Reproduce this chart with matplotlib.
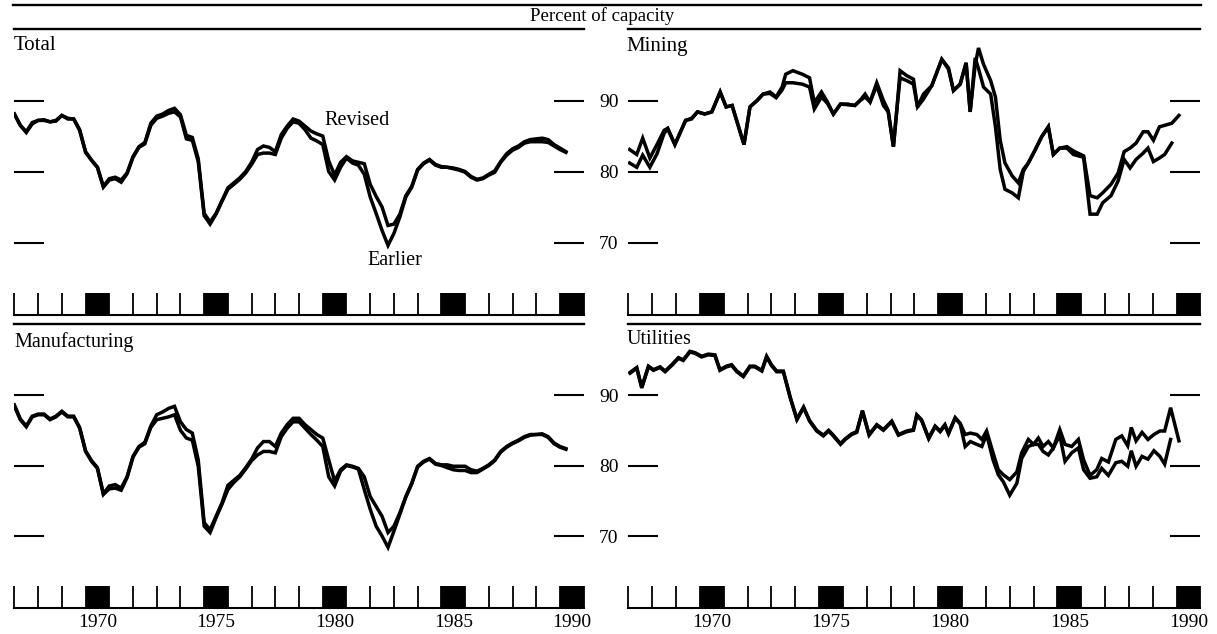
import matplotlib
matplotlib.use("Agg")
import matplotlib.pyplot as plt
from matplotlib.lines import Line2D
import numpy as np

plt.rcParams['font.family'] = ['Liberation Serif', 'DejaVu Serif']

# ---------------- data ----------------
quarters = np.arange(1967.0, 1990.26, 0.25)   # 1967Q1 .. 1990Q2

total_rev = [88.1, 86.5, 85.6, 86.9, 87.2, 87.3, 87.0, 87.2, 87.9, 87.5, 87.4, 85.9,
             82.8, 81.6, 80.6, 77.9, 79.0, 79.2, 78.8, 79.8, 82.1, 83.5, 84.1, 86.8,
             87.8, 88.1, 88.6, 88.9, 88.0, 85.1, 84.8, 81.8, 74.1, 72.9, 74.1, 75.9,
             77.7, 78.4, 79.1, 80.0, 81.3, 83.1, 83.6, 83.4, 82.8, 85.2, 86.4, 87.4,
             87.1, 86.4, 85.7, 85.3, 85.0, 81.5, 79.5, 81.3, 82.1, 81.5, 81.3, 81.1,
             78.2, 76.5, 75.0, 72.4, 72.6, 74.0, 76.6, 77.9, 80.3, 81.2, 81.7, 81.0,
             80.7, 80.6, 80.5, 80.3, 80.0, 79.3, 78.9, 79.1, 79.6, 80.1, 81.4, 82.5,
             83.2, 83.6, 84.2, 84.5, 84.6, 84.7, 84.5, 83.8, 83.3, 82.8]
total_earl = [88.1, 86.5, 85.5, 86.7, 87.2, 87.2, 87.0, 87.1, 87.9, 87.4, 87.4, 85.8,
              82.7, 81.6, 80.6, 77.8, 78.8, 79.0, 78.5, 79.7, 82.0, 83.4, 83.9, 86.5,
              87.5, 87.8, 88.2, 88.4, 87.7, 84.6, 84.4, 81.4, 73.8, 72.6, 74.0, 75.8,
              77.5, 78.2, 78.9, 79.8, 81.0, 82.4, 82.6, 82.6, 82.4, 84.7, 86.1, 87.0,
              86.8, 85.9, 84.7, 84.3, 83.8, 80.0, 78.8, 80.6, 81.9, 81.2, 80.9, 79.6,
              76.4, 74.1, 71.7, 69.6, 71.3, 73.6, 76.4, 77.8, 80.2, 81.1, 81.6, 80.9,
              80.6, 80.6, 80.4, 80.2, 79.9, 79.2, 78.8, 79.0, 79.5, 79.9, 81.3, 82.3,
              83.0, 83.4, 84.0, 84.2, 84.2, 84.2, 84.1, 83.6, 83.1, 82.7]

mfg_rev = [88.6, 86.6, 85.6, 87.0, 87.3, 87.3, 86.6, 87.0, 87.7, 87.0, 87.0, 85.4,
           82.1, 80.7, 79.7, 76.0, 77.1, 77.3, 76.8, 78.4, 81.3, 82.7, 83.3, 85.6,
           87.2, 87.6, 88.1, 88.4, 86.2, 85.1, 84.6, 80.8, 71.9, 70.9, 72.8, 74.7,
           77.2, 77.9, 78.6, 79.7, 80.9, 82.5, 83.4, 83.4, 82.7, 84.6, 85.8, 86.7,
           86.7, 85.8, 85.1, 84.4, 83.9, 80.8, 77.8, 79.4, 80.1, 79.9, 79.6, 78.4,
           75.6, 74.2, 72.8, 70.5, 71.4, 73.3, 75.6, 77.5, 79.9, 80.6, 81.0, 80.3,
           80.1, 80.1, 79.9, 79.9, 79.9, 79.4, 79.2, 79.6, 80.1, 80.8, 82.0, 82.7,
           83.2, 83.6, 84.1, 84.4, 84.4, 84.5, 84.1, 83.2, 82.7, 82.4]
mfg_earl = [88.4, 86.5, 85.5, 86.9, 87.2, 87.2, 86.5, 86.9, 87.6, 86.9, 86.9, 85.3,
            82.0, 80.6, 79.6, 75.9, 76.7, 76.8, 76.5, 78.3, 81.2, 82.6, 83.1, 85.4,
            86.5, 86.7, 86.9, 87.2, 85.0, 83.9, 83.6, 79.9, 71.4, 70.5, 72.6, 74.5,
            76.6, 77.6, 78.4, 79.5, 80.7, 81.5, 82.0, 82.0, 81.8, 84.1, 85.3, 86.2,
            86.2, 85.3, 84.4, 83.6, 82.7, 78.4, 77.1, 79.2, 80.0, 79.8, 79.5, 76.6,
            73.8, 71.4, 70.0, 68.4, 70.7, 73.1, 75.5, 77.4, 79.8, 80.5, 80.9, 80.2,
            80.0, 79.7, 79.4, 79.3, 79.3, 79.0, 79.0, 79.5, 80.0, 80.7, 81.9, 82.6,
            83.1, 83.5, 84.0, 84.3, 84.4, 84.4, 84.0, 83.1, 82.6, 82.3]

mining_years = [1967.05, 1967.35, 1967.6, 1967.9, 1968.2, 1968.5, 1968.65, 1968.95, 1969.4, 1969.65,
                1969.9, 1970.2, 1970.5, 1970.85, 1971.1, 1971.35, 1971.85, 1972.1, 1972.4, 1972.65,
                1972.94, 1973.2, 1973.45, 1973.6, 1973.9, 1974.3, 1974.6, 1974.8, 1975.1, 1975.35,
                1975.6, 1975.9, 1976.2, 1976.5, 1976.72, 1976.93, 1977.14, 1977.42, 1977.7, 1977.9,
                1978.12, 1978.26, 1978.4, 1978.68, 1978.96, 1979.13, 1979.38, 1979.73, 1980.15, 1980.43,
                1980.64, 1980.92, 1981.17, 1981.34, 1981.55, 1981.69, 1981.9, 1982.2, 1982.4, 1982.6,
                1982.8, 1983.1, 1983.36, 1983.57, 1983.78, 1984.06, 1984.34, 1984.62, 1984.83, 1985.1,
                1985.4, 1985.67, 1986.1, 1986.37, 1986.67, 1986.9, 1987.25, 1987.55, 1987.8, 1988.05,
                1988.3, 1988.6, 1988.8, 1989.03, 1989.28, 1989.5, 1989.8, 1990.1]
mining_rev = [83.1, 82.4, 84.7, 81.9, 83.8, 85.8, 86.1, 83.8, 87.2, 87.5,
              88.4, 88.1, 88.4, 91.2, 89.1, 89.3, 83.8, 89.1, 90.0, 90.9,
              91.2, 90.5, 91.9, 93.7, 94.2, 93.7, 93.2, 89.7, 91.2, 89.8,
              88.1, 89.5, 89.5, 89.3, 90.0, 90.9, 89.8, 92.5, 90.0, 88.6,
              83.5, 88.6, 94.2, 93.5, 93.0, 89.1, 90.9, 92.1, 95.8, 94.6,
              91.4, 92.3, 95.3, 88.4, 95.0, 97.4, 95.1, 92.8, 90.5, 84.4,
              81.2, 79.4, 78.4, 80.3, 81.2, 83.0, 84.9, 86.3, 82.4, 83.3,
              83.5, 82.9, 82.2, 76.6, 76.3, 77.0, 78.2, 79.8, 82.8, 83.3,
              84.0, 85.6, 85.6, 84.4, 86.3, 86.5, 86.8, 87.9]
mining_earl = [81.2, 80.6, 82.3, 80.6, 82.5, 85.4, 86.0, 83.8, 87.2, 87.4,
               88.4, 88.1, 88.4, 91.2, 89.1, 89.3, 83.8, 89.1, 90.0, 90.9,
               91.0, 90.4, 91.5, 92.5, 92.5, 92.3, 91.9, 88.8, 90.5, 89.6,
               88.1, 89.5, 89.4, 89.3, 90.0, 90.5, 89.8, 92.1, 89.3, 88.4,
               83.5, 88.6, 93.2, 92.8, 92.3, 89.1, 90.2, 92.1, 95.8, 94.4,
               91.4, 92.3, 95.3, 88.4, 96.0, 94.5, 91.9, 90.9, 86.3, 80.3,
               77.5, 77.0, 76.3, 80.0, 81.2, 83.0, 84.9, 86.3, 82.4, 83.3,
               83.3, 82.4, 82.0, 74.0, 74.0, 75.6, 76.6, 78.7, 81.7, 80.5,
               81.7, 82.6, 83.3, 81.4, 81.9, 82.4, 84.0]

util_years = [1967.07, 1967.35, 1967.56, 1967.84, 1968.05, 1968.33, 1968.54, 1968.82, 1969.1, 1969.3,
              1969.58, 1969.8, 1970.07, 1970.35, 1970.63, 1970.84, 1971.12, 1971.33, 1971.55, 1971.82,
              1972.1, 1972.3, 1972.6, 1972.8, 1973.0, 1973.22, 1973.5, 1973.79, 1974.07, 1974.35,
              1974.6, 1974.9, 1975.18, 1975.4, 1975.6, 1975.9, 1976.1, 1976.37, 1976.58, 1976.82,
              1977.1, 1977.42, 1977.7, 1978.05, 1978.33, 1978.68, 1978.96, 1979.1, 1979.3, 1979.6,
              1979.87, 1980.08, 1980.28, 1980.43, 1980.71, 1980.92, 1981.13, 1981.35, 1981.62, 1981.83,
              1982.03, 1982.3, 1982.52, 1982.73, 1983.0, 1983.3, 1983.5, 1983.78, 1984.0, 1984.2,
              1984.4, 1984.62, 1984.83, 1985.1, 1985.32, 1985.6, 1985.88, 1986.1, 1986.37, 1986.65,
              1986.86, 1987.14, 1987.45, 1987.7, 1987.95, 1988.1, 1988.3, 1988.55, 1988.8, 1989.05,
              1989.3, 1989.5, 1989.75, 1990.1]
util_rev = [93.2, 93.9, 91.1, 94.1, 93.6, 94.0, 93.4, 94.3, 95.3, 95.0,
            96.2, 96.0, 95.5, 95.8, 95.7, 93.6, 94.1, 94.3, 93.4, 92.7,
            94.1, 94.1, 93.5, 95.5, 94.3, 93.4, 93.4, 89.7, 86.6, 88.3,
            86.4, 85.0, 84.3, 85.0, 84.3, 83.1, 83.8, 84.5, 84.8, 87.8,
            84.4, 85.8, 85.1, 86.3, 84.4, 84.9, 85.1, 87.2, 86.5, 83.9,
            85.6, 84.9, 85.8, 84.6, 86.8, 86.0, 84.4, 84.6, 84.4, 83.7,
            84.9, 81.8, 79.4, 78.7, 78.0, 79.1, 81.8, 83.7, 83.0, 83.9,
            82.7, 83.4, 82.5, 85.1, 83.0, 82.7, 83.7, 80.8, 78.6, 79.4,
            81.0, 80.5, 83.7, 84.2, 82.8, 85.4, 83.5, 84.7, 83.7, 84.4,
            84.9, 84.9, 88.2, 83.5]
util_earl = [93.1, 93.8, 91.0, 94.0, 93.5, 93.9, 93.3, 94.2, 95.2, 94.9,
             96.1, 95.9, 95.4, 95.7, 95.6, 93.5, 94.0, 94.2, 93.3, 92.6,
             94.0, 94.0, 93.4, 95.4, 94.2, 93.3, 93.3, 89.6, 86.5, 88.2,
             86.3, 84.9, 84.2, 84.9, 84.2, 83.0, 83.7, 84.4, 84.7, 87.7,
             84.3, 85.7, 85.0, 86.2, 84.3, 84.8, 85.0, 87.1, 86.4, 83.8,
             85.5, 84.8, 85.7, 84.5, 86.7, 85.9, 82.7, 83.4, 83.0, 82.7,
             84.4, 80.8, 78.7, 77.7, 75.8, 77.5, 81.0, 82.7, 83.0, 83.0,
             82.0, 81.5, 82.5, 84.3, 80.6, 81.8, 82.5, 79.4, 78.2, 78.4,
             79.6, 78.6, 80.4, 80.6, 79.9, 82.1, 79.9, 81.3, 80.9, 82.1,
             81.3, 80.2, 83.7]

block_years = [1970, 1975, 1980, 1985, 1990]
y_ticks = [70, 80, 90]

# ---------------- layout ----------------
W, H = 1217, 634
fig = plt.figure(figsize=(W / 100, H / 100), dpi=100)


def rect(x0, x1, ytop, ybot):
    return [x0 / W, 1 - ybot / H, (x1 - x0) / W, (ybot - ytop) / H]


ax_tl = fig.add_axes(rect(14.4, 583.7, 29, 315))
ax_tr = fig.add_axes(rect(628.4, 1200.4, 29, 315))
ax_bl = fig.add_axes(rect(14.4, 583.7, 324, 608))
ax_br = fig.add_axes(rect(628.4, 1200.4, 324, 608))

STRIP = 0.076
LW = 2.5


def style(ax, ylabels, years):
    ax.set_xlim(1967, 1991)
    ax.set_ylim(59.8, 100.07)
    ax.patch.set_alpha(0)
    for s in ['left', 'right']:
        ax.spines[s].set_visible(False)
    ax.spines['top'].set_linewidth(1.7)
    ax.spines['bottom'].set_linewidth(1.5)
    ax.set_xticks(np.arange(1967, 1992))
    ax.tick_params(axis='x', which='major', direction='in', length=15.8, width=1.3,
                   labelbottom=False, top=False, bottom=True)
    for yr in block_years:
        ax.axvspan(yr, yr + 1, ymin=0, ymax=STRIP, color='black', lw=0)
    ax.set_yticks(y_ticks)
    ax.set_yticklabels([str(v) for v in y_ticks])
    ax.tick_params(axis='y', direction='in', length=21.6, width=1.5, left=True, right=True,
                   labelleft=False, labelright=ylabels, pad=11, labelsize=14)
    if years:
        ax.set_xticks([y + 0.5 for y in block_years], minor=True)
        ax.set_xticklabels([str(y) for y in block_years], minor=True)
        ax.tick_params(axis='x', which='minor', length=0, pad=4, labelsize=14)
    else:
        ax.tick_params(axis='x', which='minor', length=0)


style(ax_tl, True, False)
style(ax_tr, False, False)
style(ax_bl, True, True)
style(ax_br, False, True)

ax_tl.plot(quarters, total_earl, color='black', lw=LW, solid_joinstyle='miter')
ax_tl.plot(quarters, total_rev, color='black', lw=LW, solid_joinstyle='miter')
ax_bl.plot(quarters, mfg_earl, color='black', lw=LW, solid_joinstyle='miter')
ax_bl.plot(quarters, mfg_rev, color='black', lw=LW, solid_joinstyle='miter')
ax_tr.plot(mining_years[:len(mining_earl)], mining_earl, color='black', lw=LW, solid_joinstyle='miter')
ax_tr.plot(mining_years, mining_rev, color='black', lw=LW, solid_joinstyle='miter')
ax_br.plot(util_years[:len(util_earl)], util_earl, color='black', lw=LW, solid_joinstyle='miter')
ax_br.plot(util_years, util_rev, color='black', lw=LW, solid_joinstyle='miter')

# annotations
ax_tl.text(1980.09, 87.2, 'Revised', fontsize=14.5, va='center', ha='left')
ax_tl.text(1981.9, 67.5, 'Earlier', fontsize=14.5, va='center', ha='left')

# panel titles
fig.text(14 / W, 1 - 46 / H, 'Total', fontsize=15, va='center', ha='left')
fig.text(626.5 / W, 1 - 46 / H, 'Mining', fontsize=15, va='center', ha='left')
fig.text(14 / W, 1 - 342 / H, 'Manufacturing', fontsize=14.5, va='center', ha='left')
fig.text(626.5 / W, 1 - 340 / H, 'Utilities', fontsize=14.5, va='center', ha='left')

# header
fig.add_artist(Line2D([13 / W, 1201 / W], [1 - 4.5 / H, 1 - 4.5 / H], lw=1.7, color='black'))
fig.text(602 / W, 1 - 16.5 / H, 'Percent of capacity', fontsize=13.5, va='center', ha='center')

fig.savefig('out.png', dpi=100)
